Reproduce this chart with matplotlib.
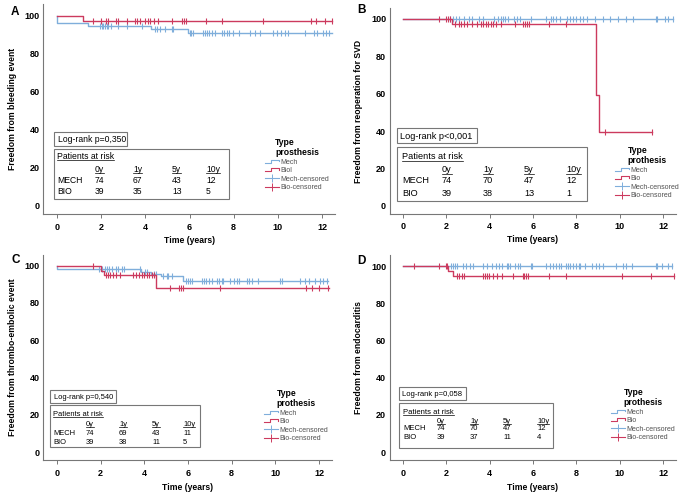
import matplotlib
matplotlib.use('Agg')
import matplotlib.pyplot as plt
from matplotlib.lines import Line2D
from matplotlib.patches import Rectangle
from matplotlib.legend_handler import HandlerBase

plt.rcParams['font.family'] = ['Liberation Sans', 'DejaVu Sans']

W, H = 683, 500
MECH_COLOR = '#7FAEDB'
BIO_COLOR = '#CC3A5E'
GRAY = '#777777'

# ---- data (years / % event-free) ----
# A: bleeding
a_mech_t = [0.0, 1.42, 4.25, 5.92]
a_mech_s = [96.0, 94.7, 93.2, 90.8]
a_mech_end = 12.45
a_mech_cens = [1.95, 2.02, 2.09, 2.17, 2.25, 2.32, 2.44, 2.77, 3.15, 3.83, 4.43, 4.51, 4.66,
               4.89, 5.19, 5.26, 6.02, 6.09, 6.17, 6.59, 6.70, 6.80, 6.89, 7.00, 7.15, 7.45,
               7.56, 7.68, 7.80, 7.95, 8.25, 8.76, 8.96, 9.19, 9.76, 9.97, 10.14, 10.32,
               10.47, 11.22, 11.63, 11.78, 12.05, 12.17, 12.32]
a_bio_t = [1.16]
a_bio_s = [97.4]
a_bio_end = 12.47
a_bio_cens = [1.64, 1.98, 2.22, 2.32, 2.67, 2.77, 3.18, 3.53, 3.63, 3.76, 3.98, 4.10, 4.21,
              4.40, 4.58, 5.19, 5.67, 5.76, 5.84, 6.74, 7.48, 9.33, 11.52, 11.75, 12.13, 12.47]

# B: reoperation for SVD
b_mech_t = []
b_mech_s = []
b_mech_end = 12.46
b_mech_cens = [2.17, 2.29, 2.44, 2.60, 2.81, 3.06, 3.17, 3.52, 3.67, 4.19, 4.39, 4.50, 4.62,
               4.70, 4.85, 5.12, 5.24, 5.39, 5.93, 6.59, 6.81, 6.93, 7.08, 7.24, 7.57, 7.73,
               7.85, 8.00, 8.19, 8.31, 8.47, 8.85, 9.23, 9.57, 9.92, 10.31, 10.61, 11.66,
               11.72, 12.07, 12.23, 12.46]
b_bio_t = [2.25, 8.89, 9.05]
b_bio_s = [97.4, 59.3, 39.5]
b_bio_end = 11.51
b_bio_cens = [1.65, 1.98, 2.08, 2.17, 2.42, 2.57, 2.68, 2.80, 2.96, 3.19, 3.40, 3.59, 3.70,
              3.82, 3.93, 4.05, 4.16, 4.30, 4.50, 5.15, 5.53, 5.63, 5.72, 5.82, 6.76, 7.50,
              9.31, 11.51]

# C: thrombo-embolic event
c_mech_t = [0.0, 3.83, 4.30, 4.75, 5.78]
c_mech_s = [98.2, 96.6, 95.4, 94.3, 92.0]
c_mech_end = 12.42
c_mech_cens = [1.94, 2.05, 2.20, 2.30, 2.40, 2.51, 2.70, 2.81, 2.96, 3.07, 3.80, 4.03, 4.14,
               4.44, 4.54, 4.87, 5.02, 5.10, 5.25, 5.91, 6.00, 6.09, 6.17, 6.63, 6.73, 6.83,
               6.98, 7.09, 7.32, 7.43, 7.54, 7.62, 7.92, 8.11, 8.23, 8.35, 8.69, 8.81, 8.92,
               9.22, 10.22, 10.32, 11.13, 11.36, 11.52, 11.82, 12.05, 12.20, 12.36]
c_bio_t = [2.0, 2.15, 4.52]
c_bio_s = [97.4, 94.9, 88.0]
c_bio_end = 12.47
c_bio_cens = [1.65, 2.25, 2.33, 2.45, 2.58, 2.70, 2.88, 3.47, 3.63, 3.77, 3.90, 4.00, 4.12,
              4.23, 4.33, 4.42, 5.18, 5.58, 5.68, 5.78, 7.47, 11.40, 11.67, 12.0, 12.42]

# D: endocarditis
d_mech_t = []
d_mech_s = []
d_mech_end = 12.43
d_mech_cens = [2.20, 2.29, 2.40, 2.50, 2.75, 2.90, 3.09, 3.24, 3.67, 3.86, 4.13, 4.29, 4.44,
               4.59, 4.78, 4.85, 4.96, 5.16, 5.31, 5.42, 5.93, 5.97, 6.62, 6.80, 6.93, 7.05,
               7.20, 7.31, 7.54, 7.62, 7.70, 7.85, 7.97, 8.13, 8.19, 8.39, 8.74, 8.89, 9.05,
               9.23, 9.84, 10.15, 10.28, 10.58, 11.66, 11.72, 11.96, 12.23, 12.43]
d_bio_t = [2.09, 2.30]
d_bio_s = [97.4, 94.8]
d_bio_end = 12.53
d_bio_cens = [0.51, 1.67, 1.98, 2.04, 2.47, 2.59, 2.70, 2.81, 3.67, 3.78, 3.86, 3.98, 4.16,
              4.32, 4.55, 5.08, 5.52, 5.58, 5.67, 5.77, 6.74, 7.51, 10.12, 11.46, 12.53]

# text content
letters = ['A', 'B', 'C', 'D']
ylabels = ['Freedom from bleeding event', 'Freedom from reoperation for SVD',
           'Freedom from thrombo-embolic event', 'Freedom from endocarditis']
logranks = ['Log-rank p=0,350', 'Log-rank p<0,001', 'Log-rank p=0,540', 'Log-rank p=0,058']
risk_cols = ['0y', '1y', '5y', '10y']
risk_mech = [[74, 67, 43, 12], [74, 70, 47, 12], [74, 69, 43, 11], [74, 70, 47, 12]]
risk_bio = [[39, 35, 13, 5], [39, 38, 13, 1], [39, 38, 11, 5], [39, 37, 11, 4]]
leg_titles = ['Type\nprosthesis', 'Type\nprothesis', 'Type\nprothesis', 'Type\nprothesis']
bio_names = ['Biol', 'Bio', 'Bio', 'Bio']

curves = [
    (a_mech_t, a_mech_s, a_mech_end, a_mech_cens, a_bio_t, a_bio_s, a_bio_end, a_bio_cens),
    (b_mech_t, b_mech_s, b_mech_end, b_mech_cens, b_bio_t, b_bio_s, b_bio_end, b_bio_cens),
    (c_mech_t, c_mech_s, c_mech_end, c_mech_cens, c_bio_t, c_bio_s, c_bio_end, c_bio_cens),
    (d_mech_t, d_mech_s, d_mech_end, d_mech_cens, d_bio_t, d_bio_s, d_bio_end, d_bio_cens),
]

# ---- layout (pixels in the 683x500 image) ----
XLIM = (-0.62, 12.6)
YLIM = (-4.5, 106)
# x of t=0, x of t=12, y of 100, y of 0
anchors = [(57, 322, 15.7, 205.7), (403, 663, 19, 205.7),
           (57, 319, 265.7, 452), (403, 663, 266, 452)]
letter_pos = [(11, 6), (357, 4), (12, 254), (357, 255)]
ylab_x = [17, 363, 17, 363]
xlab_y = [236, 235, 483, 483]
lr_box = [(54, 132, 127, 146), (397, 128, 477, 143), (50, 390, 116, 403), (399, 387, 466, 400)]
tab_box = [(54, 149, 229, 199), (397, 147, 587, 201), (50, 405, 200, 447), (399, 403, 553, 448)]
tab_rows = [(156, 169, 180, 191), (156, 169, 180, 193), (413, 423, 432, 441), (411, 420, 427, 436)]
tab_cols = [(57, 95, 133, 172, 206), (402, 442, 483, 524, 566),
            (53, 86, 119, 152, 183), (403, 437, 470, 503, 537)]
tab_fs = [6.2, 6.6, 5.4, 5.5]
leg_anchor = [(265, 138), (615, 146), (264, 389), (611, 388)]


def fx(x):
    return x / W


def fy(y):
    return 1 - y / H


def step_xy(times, surv, end):
    xs = [0.0] + list(times) + [end]
    ys = [100.0] + list(surv) + [surv[-1] if surv else 100.0]
    return xs, ys


def surv_at(times, surv, t):
    s = 100.0
    for ti, si in zip(times, surv):
        if t >= ti:
            s = si
    return s


class StepHandler(HandlerBase):
    def create_artists(self, legend, orig, xd, yd, w, h, fontsize, trans):
        xs = [xd, xd + w * 0.45, xd + w * 0.45, xd + w, xd + w]
        ys = [yd + h * 0.15, yd + h * 0.15, yd + h * 0.85, yd + h * 0.85, yd + h * 0.5]
        ln = Line2D(xs, ys, color=orig.get_color(), lw=0.8)
        ln.set_transform(trans)
        return [ln]


fig = plt.figure(figsize=(W / 100, H / 100), dpi=100)
underlines = []

for i in range(4):
    p0, p12, y100, y0 = anchors[i]
    sx = (p12 - p0) / 12
    sy = (y0 - y100) / 100
    left = p0 + XLIM[0] * sx
    right = p0 + XLIM[1] * sx
    top = y0 - YLIM[1] * sy
    bottom = y0 - YLIM[0] * sy
    ax = fig.add_axes([fx(left), fy(bottom), (right - left) / W, (bottom - top) / H])

    mt, ms, mend, mc, bt, bs, bend, bc = curves[i]
    for t, s, end, cens, col in [(mt, ms, mend, mc, MECH_COLOR), (bt, bs, bend, bc, BIO_COLOR)]:
        xs, ys = step_xy(t, s, end)
        ax.step(xs, ys, where='post', color=col, lw=1.0)
        ax.plot(cens, [surv_at(t, s, c) for c in cens], ls='none', marker='|',
                ms=4.5, mew=0.8, color=col)

    ax.set_xlim(*XLIM)
    ax.set_ylim(*YLIM)
    ax.set_xticks(range(0, 13, 2))
    ax.set_yticks(range(0, 101, 20))
    for sp in ['top', 'right']:
        ax.spines[sp].set_visible(False)
    for sp in ['left', 'bottom']:
        ax.spines[sp].set_color(GRAY)
        ax.spines[sp].set_linewidth(0.8)
    ax.tick_params(axis='x', length=3, width=0.7, color=GRAY, pad=3, labelsize=6.5)
    ax.tick_params(axis='y', length=0, pad=2.5, labelsize=6.5)
    for lab in ax.get_xticklabels() + ax.get_yticklabels():
        lab.set_fontweight('bold')

    ax.set_xlabel('Time (years)', fontsize=6.2, fontweight='bold')
    ax.xaxis.set_label_coords(fx((left + right) / 2), fy(xlab_y[i]), transform=fig.transFigure)
    ax.set_ylabel(ylabels[i], fontsize=6.2, fontweight='bold')
    ax.yaxis.set_label_coords(fx(ylab_x[i]), fy((top + bottom) / 2), transform=fig.transFigure)

    fig.text(fx(letter_pos[i][0]), fy(letter_pos[i][1]), letters[i], fontsize=8.5,
             fontweight='bold', va='top', ha='left')

    # legend
    handles = [Line2D([], [], color=MECH_COLOR), Line2D([], [], color=BIO_COLOR),
               Line2D([], [], color=MECH_COLOR, marker='+', ms=6, mew=0.7, lw=0.8),
               Line2D([], [], color=BIO_COLOR, marker='+', ms=6, mew=0.7, lw=0.8)]
    labels = ['Mech', bio_names[i], 'Mech-censored', 'Bio-censored']
    leg = ax.legend(handles, labels, title=leg_titles[i], loc='upper left',
                    bbox_to_anchor=(fx(leg_anchor[i][0]), fy(leg_anchor[i][1])),
                    bbox_transform=fig.transFigure, frameon=False, fontsize=5,
                    title_fontproperties={'weight': 'bold', 'size': 6.2},
                    handlelength=2.0, handletextpad=0.2, labelspacing=0.2,
                    borderpad=0, borderaxespad=0,
                    handler_map={handles[0]: StepHandler(), handles[1]: StepHandler()})
    for txt in leg.get_texts():
        txt.set_color('#505050')

    # log-rank box
    x0, ya, x1, yb = lr_box[i]
    fs = tab_fs[i]
    fig.add_artist(Rectangle((fx(x0), fy(yb)), (x1 - x0) / W, (yb - ya) / H, fill=False,
                             ec=GRAY, lw=0.8, transform=fig.transFigure))
    base_off = 0.36 * fs * 100 / 72
    fig.text(fx(x0 + 3.5), fy((ya + yb) / 2 + base_off), logranks[i], fontsize=fs,
             va='baseline', ha='left')

    # patients at risk table
    x0, ya, x1, yb = tab_box[i]
    fig.add_artist(Rectangle((fx(x0), fy(yb)), (x1 - x0) / W, (yb - ya) / H, fill=False,
                             ec=GRAY, lw=0.8, transform=fig.transFigure))
    rows = tab_rows[i]
    cols = tab_cols[i]
    t = fig.text(fx(cols[0]), fy(rows[0] + base_off), 'Patients at risk', fontsize=fs,
                 va='baseline', ha='left')
    underlines.append((t, fs))
    for j, name in enumerate(risk_cols):
        t = fig.text(fx(cols[j + 1]), fy(rows[1] + base_off), name, fontsize=fs,
                     va='baseline', ha='left')
        underlines.append((t, fs))
    for r, (name, vals) in enumerate([('MECH', risk_mech[i]), ('BIO', risk_bio[i])]):
        yy = fy(rows[2 + r] + base_off)
        fig.text(fx(cols[0]), yy, name, fontsize=fs, va='baseline', ha='left')
        for j, v in enumerate(vals):
            fig.text(fx(cols[j + 1]), yy, str(v), fontsize=fs, va='baseline', ha='left')

# underline table headers
fig.canvas.draw()
inv = fig.transFigure.inverted()
for t, fs in underlines:
    bb = t.get_window_extent()
    xa, _ = inv.transform((bb.x0, 0))
    xb, _ = inv.transform((bb.x1, 0))
    yb = t.get_position()[1] - 0.15 * fs * 100 / 72 / H
    fig.add_artist(Line2D([xa, xb], [yb, yb], color='black', lw=0.5,
                          transform=fig.transFigure))

fig.savefig('out.png', dpi=100, facecolor='white')
